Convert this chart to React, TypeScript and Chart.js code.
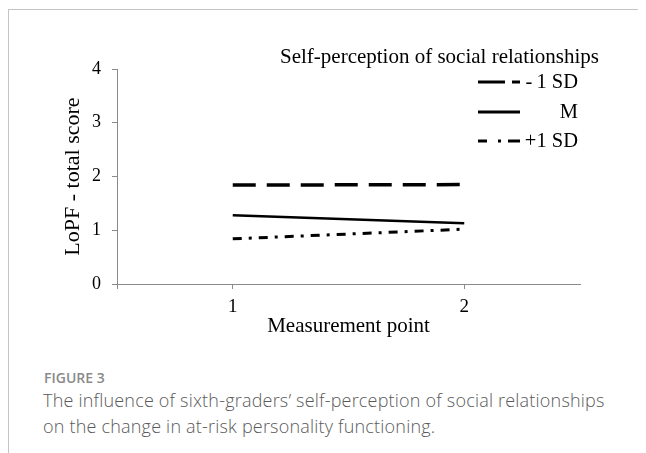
import React, { useEffect, useRef } from "react";
import { Chart, registerables } from "chart.js";

Chart.register(...registerables);

const measurementPoints = [1, 2];
const minusSD = [1.84, 1.85];
const meanM = [1.28, 1.13];
const plusSD = [0.84, 1.02];
const yTicks = [0, 1, 2, 3, 4];
const xTickValues = [0.5, 1, 2];
const legendTitle = "Self-perception of social relationships";
const seriesLabels = ["-\u20091 SD", "M", "+1 SD"];

const SERIF = "'Liberation Serif', 'Times New Roman', serif";
const AXIS_GRAY = "#8a8a8a";

const legendPlugin = {
  id: "customLegend",
  afterDraw(chart: any) {
    const ctx = chart.ctx;
    ctx.save();
    ctx.fillStyle = "#000";
    ctx.font = `21px ${SERIF}`;
    ctx.textBaseline = "middle";
    ctx.textAlign = "left";
    ctx.fillText(legendTitle, 271, 47);

    const rows = [72, 102, 131];
    const x0 = 469;
    const x1 = 511;
    ctx.strokeStyle = "#000";
    ctx.lineWidth = 3;
    ctx.lineCap = "butt";
    const seg = (a: number, b: number, y: number) => {
      ctx.beginPath();
      ctx.moveTo(a, y);
      ctx.lineTo(b, y);
      ctx.stroke();
    };
    // dashed "— -"
    seg(x0, x0 + 27, rows[0]);
    seg(x0 + 34, x1, rows[0]);
    // solid
    seg(x0, x1, rows[1]);
    // dash-dot "- · -"
    seg(x0, x0 + 9, rows[2]);
    seg(x0 + 20, x0 + 23, rows[2]);
    seg(x0 + 30, x1, rows[2]);

    ctx.font = `20.5px ${SERIF}`;
    ctx.textAlign = "right";
    seriesLabels.forEach((t, i) => ctx.fillText(t, 569, rows[i] + 1));
    ctx.restore();
  },
};

export default function App() {
  const canvasRef = useRef<HTMLCanvasElement | null>(null);

  useEffect(() => {
    if (!canvasRef.current) return;
    const toPts = (arr: number[]) => arr.map((y, i) => ({ x: measurementPoints[i], y }));
    const chart = new Chart(canvasRef.current, {
      type: "line",
      data: {
        datasets: [
          {
            label: seriesLabels[0],
            data: toPts(minusSD),
            borderColor: "#000",
            borderWidth: 3.5,
            borderDash: [23, 11],
            pointRadius: 0,
          },
          {
            label: seriesLabels[1],
            data: toPts(meanM),
            borderColor: "#000",
            borderWidth: 2.5,
            pointRadius: 0,
          },
          {
            label: seriesLabels[2],
            data: toPts(plusSD),
            borderColor: "#000",
            borderWidth: 3,
            borderDash: [9, 7, 3, 7],
            pointRadius: 0,
          },
        ],
      },
      options: {
        animation: false,
        responsive: false,
        maintainAspectRatio: false,
        layout: { padding: { left: 0, right: 66, top: 59, bottom: 0 } },
        plugins: {
          legend: { display: false },
          tooltip: { enabled: false },
        },
        scales: {
          x: {
            type: "linear",
            min: 0.5,
            max: 2.5,
            afterBuildTicks: (scale: any) => {
              scale.ticks = xTickValues.map((v) => ({ value: v }));
            },
            afterFit: (scale: any) => {
              scale.height = 66;
            },
            ticks: {
              color: "#000",
              font: { family: SERIF, size: 19 },
              padding: 7,
              maxRotation: 0,
              autoSkip: false,
              callback: (v: any) => (v === 0.5 ? "" : String(v)),
            },
            grid: {
              drawOnChartArea: false,
              drawTicks: true,
              tickLength: 5,
              color: AXIS_GRAY,
            },
            border: { color: AXIS_GRAY, width: 1 },
            title: {
              display: true,
              text: "Measurement point",
              color: "#000",
              font: { family: SERIF, size: 21 },
              padding: { top: 0, bottom: 11 },
            },
          },
          y: {
            type: "linear",
            min: yTicks[0],
            max: yTicks[yTicks.length - 1],
            afterBuildTicks: (scale: any) => {
              scale.ticks = yTicks.map((v) => ({ value: v }));
            },
            afterFit: (scale: any) => {
              scale.width = 108;
            },
            ticks: {
              color: "#000",
              font: { family: SERIF, size: 18 },
              padding: 11,
            },
            grid: {
              drawOnChartArea: false,
              drawTicks: true,
              tickLength: 5,
              color: AXIS_GRAY,
            },
            border: { color: AXIS_GRAY, width: 1 },
            title: {
              display: true,
              text: "LoPF - total score",
              color: "#000",
              font: { family: SERIF, size: 22 },
              padding: { top: 51, bottom: 0 },
            },
          },
        },
      },
      plugins: [legendPlugin],
    });
    return () => chart.destroy();
  }, []);

  return (
    <div
      style={{
        position: "relative",
        width: 638,
        height: 444,
        marginTop: 1,
        borderTop: "1px solid #c4c4c4",
        borderLeft: "1px solid #c4c4c4",
        boxSizing: "content-box",
      }}
    >
      <canvas
        ref={canvasRef}
        width={637}
        height={340}
        style={{ position: "absolute", left: 0, top: 0, width: 637, height: 340 }}
      />
      <div
        style={{
          position: "absolute",
          left: 35,
          top: 358,
          fontFamily: "'Open Sans', sans-serif",
          fontSize: 14,
          fontWeight: 600,
          lineHeight: "20px",
          color: "#8a8a8a",
          whiteSpace: "nowrap",
        }}
      >
        FIGURE 3
      </div>
      <div
        style={{
          position: "absolute",
          left: 34,
          top: 377,
          fontFamily: "'Open Sans', sans-serif",
          fontSize: 18,
          fontWeight: 300,
          letterSpacing: "0.2px",
          lineHeight: "26px",
          color: "#5a5a5a",
          whiteSpace: "nowrap",
        }}
      >
        The influence of sixth-graders’ self-perception of social relationships
        <br />
        on the change in at-risk personality functioning.
      </div>
    </div>
  );
}
